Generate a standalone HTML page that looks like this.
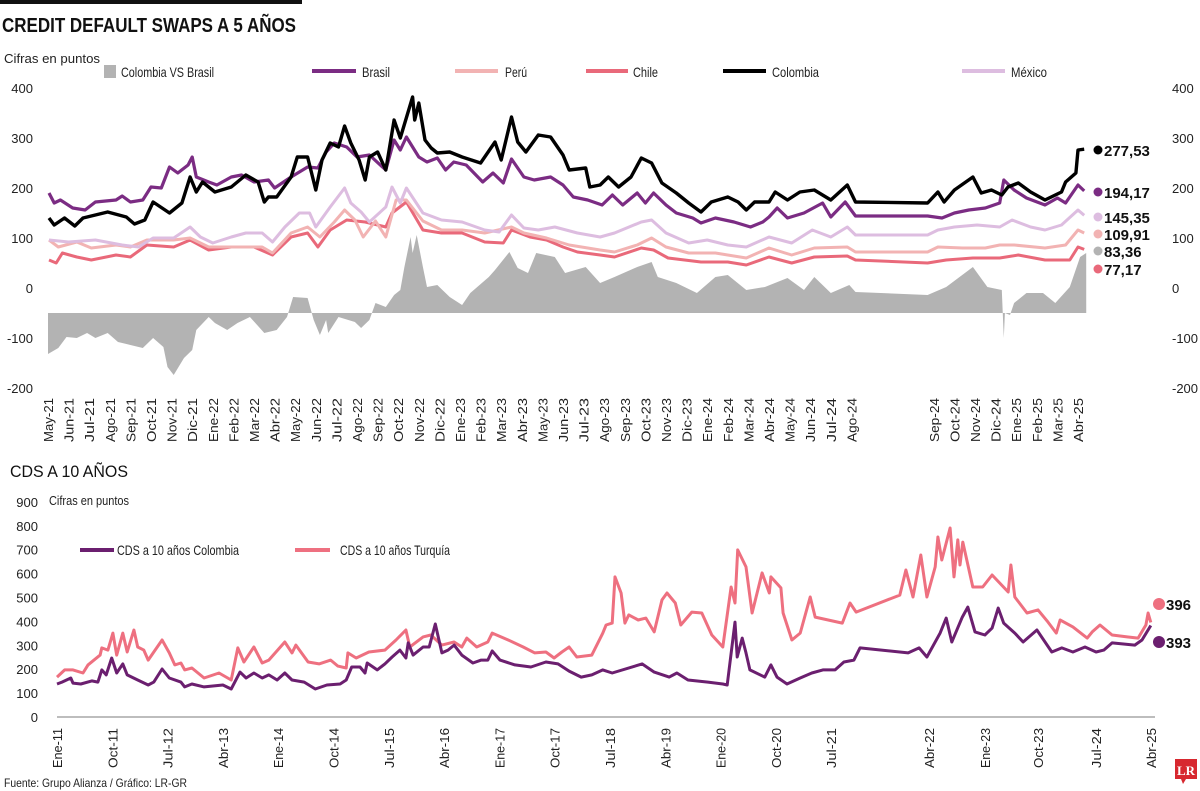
<!DOCTYPE html>
<html><head><meta charset="utf-8">
<style>
html,body{margin:0;padding:0;background:#fff;}
svg{display:block;font-family:"Liberation Sans Narrow","Liberation Sans",sans-serif;}
</style></head>
<body>
<svg id="chart" width="1200" height="791" viewBox="0 0 1200 791" xmlns="http://www.w3.org/2000/svg">
  <rect x="0" y="0" width="302" height="4" fill="#111"/>
  <text x="2" y="32" font-size="20" font-weight="bold" fill="#111" font-family="Liberation Sans, sans-serif" textLength="294" lengthAdjust="spacingAndGlyphs">CREDIT DEFAULT SWAPS A 5 AÑOS</text>
  <text x="4" y="63" font-size="13" fill="#222" textLength="96" lengthAdjust="spacingAndGlyphs">Cifras en puntos</text>
  <g id="topLegend">
    <rect x="104" y="65" width="12" height="13" fill="#b3b3b3"/>
    <text x="121" y="77" font-size="14" fill="#222" textLength="93" lengthAdjust="spacingAndGlyphs">Colombia VS Brasil</text>
    <line x1="312" y1="71" x2="356" y2="71" stroke="#7b2c83" stroke-width="4"/>
    <text x="362" y="77" font-size="14" fill="#222" textLength="28" lengthAdjust="spacingAndGlyphs">Brasil</text>
    <line x1="455" y1="71" x2="498" y2="71" stroke="#f2b3b3" stroke-width="4"/>
    <text x="505" y="77" font-size="14" fill="#222" textLength="22" lengthAdjust="spacingAndGlyphs">Perú</text>
    <line x1="586" y1="71" x2="628" y2="71" stroke="#e9697a" stroke-width="4"/>
    <text x="633" y="77" font-size="14" fill="#222" textLength="25" lengthAdjust="spacingAndGlyphs">Chile</text>
    <line x1="723" y1="71" x2="766" y2="71" stroke="#000" stroke-width="4"/>
    <text x="772" y="77" font-size="14" fill="#222" textLength="47" lengthAdjust="spacingAndGlyphs">Colombia</text>
    <line x1="962" y1="71" x2="1005" y2="71" stroke="#ddbde0" stroke-width="4"/>
    <text x="1011" y="77" font-size="14" fill="#222" textLength="36" lengthAdjust="spacingAndGlyphs">México</text>
  </g>
  <g id="topPlot"></g>

  <text x="10" y="477" font-size="17" fill="#111" font-family="Liberation Sans, sans-serif" textLength="118" lengthAdjust="spacingAndGlyphs">CDS A 10 AÑOS</text>
  <text x="49" y="505" font-size="13" fill="#222" textLength="80" lengthAdjust="spacingAndGlyphs">Cifras en puntos</text>
  <g>
    <line x1="80" y1="550" x2="114" y2="550" stroke="#6b1f6f" stroke-width="4"/>
    <text x="117" y="555" font-size="14" fill="#222" textLength="122" lengthAdjust="spacingAndGlyphs">CDS a 10 años Colombia</text>
    <line x1="295" y1="550" x2="330" y2="550" stroke="#ee7080" stroke-width="4"/>
    <text x="340" y="555" font-size="14" fill="#222" textLength="110" lengthAdjust="spacingAndGlyphs">CDS a 10 años Turquía</text>
  </g>
  <g id="bottomPlot"></g>

  <text x="4" y="787" font-size="12" fill="#222" textLength="183" lengthAdjust="spacingAndGlyphs">Fuente: Grupo Alianza / Gráfico: LR-GR</text>
  <g>
    <rect x="1175" y="759" width="22" height="20" fill="#d7282f"/>
    <polygon points="1181,779 1186,779 1183,784" fill="#d7282f"/>
    <text x="1186" y="775" font-size="13" font-weight="bold" fill="#fff" text-anchor="middle" font-family="Liberation Serif, serif">LR</text>
  </g>
</svg>
<script>
const topTickLabels = ["May-21","Jun-21","Jul-21","Ago-21","Sep-21","Oct-21","Nov-21","Dic-21","Ene-22","Feb-22","Mar-22","Abr-22","May-22","Jun-22","Jul-22","Ago-22","Sep-22","Oct-22","Nov-22","Dic-22","Ene-23","Feb-23","Mar-23","Abr-23","May-23","Jun-23","Jul-23","Ago-23","Sep-23","Oct-23","Nov-23","Dic-23","Ene-24","Feb-24","Mar-24","Abr-24","May-24","Jun-24","Jul-24","Ago-24","Sep-24","Oct-24","Nov-24","Dic-24","Ene-25","Feb-25","Mar-25","Abr-25"];
const topTickMonths = [0,1,2,3,4,5,6,7,8,9,10,11,12,13,14,15,16,17,18,19,20,21,22,23,24,25,26,27,28,29,30,31,32,33,34,35,36,37,38,39,43,44,45,46,47,48,49,50];
const topYTicks = [400,300,200,100,0,-100,-200];
const colombia5y = [[0.05,140],[0.3,126],[0.8,140],[1.3,124],[1.7,140],[2.9,152],[3.8,142],[4.2,128],[4.7,136],[5.1,172],[5.9,150],[6.5,170],[6.9,222],[7.2,192],[7.5,212],[8.1,192],[8.9,202],[9.6,226],[10.2,212],[10.5,172],[10.7,182],[11.1,182],[11.8,222],[12.1,262],[12.6,262],[13.0,196],[13.3,256],[13.7,290],[14.1,282],[14.4,324],[14.7,290],[15.1,256],[15.4,216],[15.6,262],[16.0,272],[16.4,236],[16.8,336],[17.1,300],[17.7,382],[17.8,336],[18.0,370],[18.3,296],[18.6,280],[18.9,270],[19.5,272],[20.1,262],[21.0,250],[21.7,292],[22.0,256],[22.5,342],[22.8,292],[23.2,272],[23.8,306],[24.4,302],[25.0,266],[25.3,236],[26.1,240],[26.3,202],[26.8,206],[27.2,222],[27.7,202],[28.3,222],[28.8,260],[29.3,250],[29.8,210],[30.5,190],[31.1,170],[31.7,152],[32.2,172],[33.0,182],[33.5,172],[33.9,156],[34.3,172],[35.0,172],[35.3,192],[35.9,176],[36.5,192],[37.2,196],[38.0,176],[38.8,206],[39.2,172],[42.7,170],[43.2,192],[43.5,172],[44.0,196],[44.9,222],[45.3,190],[45.8,196],[46.3,186],[46.6,202],[47.1,210],[47.7,192],[48.4,176],[49.2,192],[49.4,212],[49.9,230],[50.0,276],[50.3,277.53]];
const brasil5y = [[0.05,190],[0.3,170],[0.6,176],[1.2,160],[1.8,156],[2.3,172],[3.3,176],[3.6,184],[4.0,172],[4.6,176],[5.0,202],[5.5,200],[5.9,242],[6.3,230],[6.8,246],[7.0,262],[7.2,222],[7.8,212],[8.2,206],[8.9,222],[9.4,226],[10.0,212],[10.7,216],[11.0,200],[11.8,222],[12.6,242],[13.1,240],[13.5,272],[13.9,290],[14.5,282],[15.0,262],[15.6,266],[16.4,236],[16.8,296],[17.1,276],[17.4,302],[18.0,262],[18.4,252],[18.9,260],[19.3,236],[19.7,252],[20.3,246],[21.1,212],[21.6,230],[22.1,210],[22.5,258],[23.1,222],[23.6,216],[24.4,222],[25.0,206],[25.5,182],[26.2,176],[26.9,166],[27.4,186],[27.9,166],[28.6,190],[29.0,170],[29.4,190],[30.0,166],[30.5,150],[31.3,140],[31.7,130],[32.4,140],[33.3,132],[34.1,122],[34.7,132],[35.0,142],[35.4,160],[35.9,140],[36.7,150],[37.6,170],[38.0,142],[38.7,172],[39.2,144],[42.7,144],[43.4,140],[44.0,150],[44.7,156],[45.5,160],[46.2,170],[46.4,216],[46.9,196],[47.5,180],[48.4,166],[49.0,180],[49.4,170],[50.0,206],[50.3,194.17]];
const mexico5y = [[0.05,96],[1.0,92],[2.3,96],[3.6,86],[4.4,82],[5.1,100],[6.1,100],[6.9,122],[7.4,102],[8.0,90],[8.9,102],[9.6,110],[10.4,110],[10.9,92],[11.5,122],[12.2,150],[12.7,150],[13.0,122],[13.7,162],[14.4,200],[14.7,170],[15.2,152],[15.6,132],[16.4,162],[16.7,202],[17.1,170],[17.4,200],[18.2,150],[19.1,136],[20.1,132],[21.2,116],[21.9,112],[22.5,146],[23.1,120],[23.8,116],[24.6,122],[25.7,110],[26.8,102],[27.5,110],[28.8,132],[29.3,136],[30.0,110],[31.1,90],[32.0,96],[33.0,86],[33.9,82],[35.0,102],[36.1,90],[37.1,116],[38.0,102],[38.8,122],[39.2,106],[42.7,106],[43.2,116],[44.0,122],[45.1,126],[46.2,122],[46.8,136],[47.7,122],[48.4,116],[49.2,126],[50.0,156],[50.3,145.35]];
const peru5y = [[0.05,96],[0.5,82],[1.4,92],[2.1,80],[3.3,86],[4.0,82],[4.8,96],[6.1,96],[6.9,100],[7.8,82],[8.9,82],[10.4,82],[10.9,70],[11.8,110],[12.6,122],[13.2,102],[13.9,132],[14.4,156],[14.9,136],[15.3,102],[15.9,134],[16.4,102],[16.9,176],[17.4,176],[18.2,134],[19.1,116],[20.1,116],[21.2,110],[22.5,122],[23.1,110],[24.2,100],[25.3,86],[26.8,76],[27.5,72],[28.6,86],[29.3,100],[30.0,82],[31.1,70],[32.4,70],[33.9,60],[35.0,80],[36.1,66],[37.2,80],[38.8,82],[39.2,72],[42.7,72],[43.2,82],[44.4,80],[45.5,80],[46.2,86],[46.9,86],[48.4,80],[49.4,86],[50.0,116],[50.3,109.91]];
const chile5y = [[0.05,56],[0.4,50],[0.7,70],[1.4,62],[2.1,56],[3.3,66],[4.0,62],[4.8,86],[6.1,82],[6.9,96],[7.8,76],[8.9,82],[10.0,82],[10.9,66],[11.8,102],[12.6,110],[13.1,82],[13.7,116],[14.5,136],[15.4,132],[16.4,122],[16.7,150],[17.4,172],[18.2,116],[19.1,110],[20.1,110],[21.2,92],[22.1,90],[22.5,116],[23.4,102],[24.2,96],[25.0,82],[25.7,72],[26.8,66],[27.5,62],[28.8,80],[29.4,76],[30.1,60],[31.7,52],[33.0,52],[33.9,46],[35.0,62],[36.1,50],[37.2,62],[38.8,64],[39.2,56],[42.7,50],[43.6,56],[44.9,60],[46.2,60],[47.1,66],[48.4,56],[49.6,56],[50.0,82],[50.3,77.17]];
const spreadArea = [[0,-132],[0.5,-120],[0.9,-98],[1.4,-100],[1.9,-90],[2.3,-100],[2.9,-90],[3.4,-108],[4.0,-114],[4.6,-120],[5.1,-100],[5.6,-118],[5.8,-158],[6.1,-174],[6.6,-140],[7.0,-124],[7.2,-84],[7.8,-58],[8.1,-70],[8.7,-84],[9.2,-70],[9.8,-58],[10.5,-90],[11.1,-84],[11.6,-58],[11.9,-18],[12.6,-20],[12.9,-64],[13.2,-94],[13.5,-64],[13.6,-90],[14.1,-58],[14.9,-68],[15.2,-80],[15.6,-64],[15.9,-30],[16.4,-38],[16.8,-14],[17.1,-4],[17.3,42],[17.6,102],[17.7,70],[17.9,106],[18.2,42],[18.4,2],[18.9,6],[19.5,-18],[20.1,-34],[20.5,-10],[21.4,22],[21.7,36],[22.4,72],[22.8,40],[23.3,30],[23.7,70],[24.6,62],[25.1,30],[26.1,42],[26.8,10],[27.5,22],[28.6,42],[29.3,52],[29.6,22],[30.5,10],[31.5,-10],[32.4,22],[33.0,26],[33.9,-4],[34.8,2],[35.9,20],[36.7,-4],[37.2,22],[38.0,-10],[38.9,6],[39.2,-8],[42.7,-14],[43.6,2],[44.9,42],[45.6,2],[46.3,-4],[46.4,-100],[46.45,-50],[46.7,-54],[46.9,-30],[47.5,-10],[48.3,-10],[48.9,-30],[49.6,2],[50.1,62],[50.4,70]];
const areaBase = -50;
const endLabels = ["277,53","194,17","145,35","109,91","83,36","77,17"];

const bottomTickLabels = ["Ene-11","Oct-11","Jul-12","Abr-13","Ene-14","Oct-14","Jul-15","Abr-16","Ene-17","Oct-17","Jul-18","Abr-19","Ene-20","Oct-20","Jul-21","Abr-22","Ene-23","Oct-23","Jul-24","Abr-25"];
const bottomTickSlots = [0,1,2,3,4,5,6,7,8,9,10,11,12,13,14,15.77,16.78,17.74,18.79,19.78];
const bottomYTicks = [900,800,700,600,500,400,300,200,100,0];
const colombia10y = [[0,138],[.09,146],[.25,163],[.29,142],[.43,138],[.63,151],[.74,146],[.81,197],[.89,176],[.99,247],[1.08,184],[1.19,222],[1.27,176],[1.46,155],[1.65,134],[1.75,146],[1.9,201],[2.03,163],[2.24,146],[2.31,126],[2.44,138],[2.66,126],[3.0,134],[3.15,117],[3.31,188],[3.42,163],[3.56,184],[3.71,163],[3.83,176],[3.98,155],[4.12,184],[4.25,155],[4.47,146],[4.67,117],[4.88,134],[5.12,138],[5.23,155],[5.33,209],[5.48,209],[5.57,184],[5.61,226],[5.79,197],[5.93,222],[6.06,251],[6.2,280],[6.31,247],[6.35,310],[6.44,259],[6.62,293],[6.73,293],[6.84,389],[6.96,268],[7.07,280],[7.18,301],[7.32,259],[7.52,226],[7.67,238],[7.79,238],[7.87,276],[8.01,238],[8.28,218],[8.57,209],[8.84,230],[9.06,222],[9.26,192],[9.48,167],[9.67,176],[9.87,197],[10.04,184],[10.58,222],[10.8,188],[11.07,167],[11.21,184],[11.41,155],[11.77,146],[12.04,138],[12.12,134],[12.26,397],[12.3,251],[12.39,330],[12.46,268],[12.53,197],[12.8,167],[12.91,218],[13.02,167],[13.2,138],[13.44,163],[13.65,184],[13.85,197],[14.07,197],[14.23,230],[14.41,238],[14.52,289],[15.39,268],[15.59,289],[15.73,251],[15.97,351],[16.08,414],[16.18,314],[16.37,418],[16.47,460],[16.6,356],[16.78,343],[16.91,372],[17.02,456],[17.12,393],[17.32,351],[17.47,314],[17.72,364],[17.99,272],[18.17,289],[18.37,272],[18.59,293],[18.79,272],[18.93,280],[19.08,310],[19.49,301],[19.62,322],[19.78,383]];
const turquia10y = [[0,167],[.14,197],[.29,197],[.47,184],[.56,218],[.78,259],[.81,289],[.92,280],[1.01,351],[1.08,259],[1.19,351],[1.27,272],[1.39,364],[1.46,293],[1.57,280],[1.65,238],[1.75,272],[1.9,322],[2.03,268],[2.13,218],[2.24,226],[2.31,197],[2.44,205],[2.66,163],[2.93,184],[3.15,155],[3.27,289],[3.38,230],[3.56,293],[3.71,226],[3.83,238],[4.12,314],[4.25,268],[4.32,301],[4.54,230],[4.74,222],[4.95,238],[5.08,213],[5.23,205],[5.26,268],[5.41,247],[5.64,272],[5.93,280],[6.13,322],[6.31,364],[6.38,293],[6.62,335],[6.76,343],[6.96,301],[7.18,314],[7.32,293],[7.41,330],[7.59,293],[7.79,314],[7.87,351],[8.16,322],[8.43,293],[8.64,268],[8.84,272],[8.99,247],[9.13,272],[9.26,293],[9.4,251],[9.67,259],[9.87,351],[9.93,385],[10.04,393],[10.09,586],[10.2,519],[10.27,393],[10.34,427],[10.51,406],[10.65,414],[10.8,356],[10.94,490],[11.03,519],[11.18,477],[11.28,385],[11.48,439],[11.66,435],[11.84,343],[12.04,293],[12.19,544],[12.26,477],[12.31,699],[12.46,628],[12.57,435],[12.75,603],[12.88,519],[12.91,586],[13.09,540],[13.13,435],[13.29,322],[13.44,351],[13.62,502],[13.71,418],[14.2,393],[14.34,477],[14.45,439],[15.24,510],[15.35,615],[15.48,502],[15.62,678],[15.73,502],[15.88,628],[15.93,753],[16.0,657],[16.15,791],[16.22,586],[16.29,741],[16.33,636],[16.38,732],[16.56,544],[16.74,544],[16.91,594],[17.2,523],[17.25,636],[17.32,502],[17.54,435],[17.74,448],[17.92,397],[18.07,351],[18.14,406],[18.37,377],[18.63,330],[18.72,356],[18.86,385],[19.08,343],[19.35,335],[19.55,330],[19.69,385],[19.73,435],[19.78,396]];
const bottomEndLabels = ["396","393"];

const NS = "http://www.w3.org/2000/svg";
function mk(tag, attrs, parent){const e=document.createElementNS(NS,tag);for(const k in attrs)e.setAttribute(k,attrs[k]);parent.appendChild(e);return e;}

const xT = t => 48 + t*20.6;
const yT = v => 288 - v*0.5;
const xB = s => 57 + s*55.3;
const yB = v => 717 - v*0.239;

const topG = document.getElementById('topPlot');
const botG = document.getElementById('bottomPlot');

topYTicks.forEach(v=>{
  const l = mk('text',{x:33,y:yT(v)+5,'font-size':13,fill:'#222','text-anchor':'end'},topG);
  l.textContent = v;
  
  
  const r = mk('text',{x:1172,y:yT(v)+5,'font-size':13,fill:'#222'},topG);
  r.textContent = v;
  
  
});
topTickLabels.forEach((lab,i)=>{
  const x = xT(topTickMonths[i]) + 5;
  const t = mk('text',{x:x,y:398,'font-size':13,fill:'#222','text-anchor':'end',textLength:44,lengthAdjust:'spacingAndGlyphs',transform:`rotate(-90 ${x} 398)`},topG);
  t.textContent = lab;
  
  
});
let d = `M${xT(spreadArea[0][0])},${yT(areaBase)}`;
spreadArea.forEach(p=>{ d += ` L${xT(p[0]).toFixed(1)},${yT(p[1]).toFixed(1)}`; });
d += ` L${xT(spreadArea[spreadArea.length-1][0])},${yT(areaBase)} Z`;
const area = mk('path',{d:d,fill:'#b3b3b3'},topG);



function line(parent, data, xs, ys, color, w, name){
  const dd = data.map((p,i)=>(i?'L':'M')+xs(p[0]).toFixed(1)+','+ys(p[1]).toFixed(1)).join(' ');
  const el = mk('path',{d:dd,fill:'none',stroke:color,'stroke-width':w,'stroke-linejoin':'round'},parent);
  
  
}
line(topG, chile5y, xT, yT, '#e9697a', 3, 'chile-line');
line(topG, peru5y, xT, yT, '#f2b3b3', 3, 'peru-line');
line(topG, mexico5y, xT, yT, '#ddbde0', 3, 'mexico-line');
line(topG, brasil5y, xT, yT, '#7b2c83', 3.2, 'brasil-line');
line(topG, colombia5y, xT, yT, '#000', 3.4, 'colombia-line');

const endColors = ['#000','#7b2c83','#ddbde0','#f2b3b3','#b3b3b3','#e9697a'];
const endY = [150,192,217,234,251,269];
endLabels.forEach((lab,i)=>{
  const c = mk('circle',{cx:1098,cy:endY[i],r:4.5,fill:endColors[i]},topG);
  
  
  const t = mk('text',{x:1104,y:endY[i]+6,'font-size':15,'font-weight':'bold',fill:'#111'},topG);
  t.textContent = lab;
  
  
});

bottomYTicks.forEach(v=>{
  const l = mk('text',{x:38,y:yB(v)+5,'font-size':13,fill:'#222','text-anchor':'end'},botG);
  l.textContent = v;
  
  
});
const ax = mk('line',{x1:57,y1:yB(0),x2:1155,y2:yB(0),stroke:'#bdbdbd','stroke-width':2},botG);


bottomTickLabels.forEach((lab,i)=>{
  const x = xB(bottomTickSlots[i]) + 5;
  const t = mk('text',{x:x,y:728,'font-size':13,fill:'#222','text-anchor':'end',textLength:40,lengthAdjust:'spacingAndGlyphs',transform:`rotate(-90 ${x} 728)`},botG);
  t.textContent = lab;
  
  
});
line(botG, turquia10y, xB, yB, '#ee7080', 3, 'turquia-10y-line');
line(botG, colombia10y, xB, yB, '#6b1f6f', 3, 'colombia-10y-line');
const bEndColors = ['#ee7080','#6b1f6f'];
const bEndY = [604,642];
bottomEndLabels.forEach((lab,i)=>{
  const c = mk('circle',{cx:1159,cy:bEndY[i],r:6,fill:bEndColors[i]},botG);
  
  
  const t = mk('text',{x:1166,y:bEndY[i]+6,'font-size':15,'font-weight':'bold',fill:'#111'},botG);
  t.textContent = lab;
  
  
});
</script>
</body></html>
